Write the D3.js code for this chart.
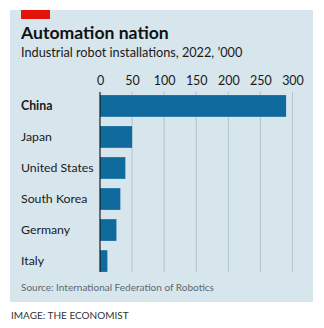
<!DOCTYPE html>
<html>
<head>
<meta charset="utf-8">
<script src="https://cdn.jsdelivr.net/npm/d3@7"></script>
<style>
  body { margin: 0; background: #fff; }
  text { font-family: Lato, "Open Sans", sans-serif; }
</style>
</head>
<body>
<div id="chart"></div>
<script>
// Data
const countries = ["China", "Japan", "United States", "South Korea", "Germany", "Italy"];
const installs = [290, 50, 39.5, 31.7, 25.6, 11.5];
const xTicks = [0, 50, 100, 150, 200, 250, 300];

function draw() {
  const dims = {
    width: 324,
    height: 328,
    left: 100,
    right: 292.5,
    top: 92,
    bottom: 272,
  };

  const svg = d3
    .select("#chart")
    .append("svg")
    .attr("width", dims.width)
    .attr("height", dims.height);

  // Panel
  svg.append("rect")
    .attr("x", 10).attr("y", 10)
    .attr("width", 303).attr("height", 292)
    .attr("fill", "#d7e5ed");

  svg.append("rect")
    .attr("x", 21).attr("y", 10)
    .attr("width", 29).attr("height", 9)
    .attr("fill", "#e3120b");

  svg.append("text")
    .attr("x", 21).attr("y", 39)
    .attr("font-size", 17.6)
    .attr("font-weight", 700)
    .attr("fill", "#121212")
    .text("Automation nation");

  svg.append("text")
    .attr("x", 21).attr("y", 57)
    .attr("font-size", 12.7)
    .attr("fill", "#1a1a1a")
    .text("Industrial robot installations, 2022, \u2019000");

  // Scales
  const xScale = d3.scaleLinear()
    .domain([0, 300])
    .range([dims.left, dims.right]);

  const yScale = d3.scaleBand()
    .domain(countries)
    .range([dims.top, dims.top + 183])
    .paddingInner(0.3)
    .paddingOuter(0.1);

  // Gridlines
  svg.append("g")
    .selectAll("line")
    .data(xTicks.slice(1))
    .join("line")
    .attr("x1", (d) => xScale(d))
    .attr("x2", (d) => xScale(d))
    .attr("y1", dims.top)
    .attr("y2", dims.bottom)
    .attr("stroke", "#b3c4cf")
    .attr("stroke-width", 1);

  // Tick labels on top
  const xAxis = d3.axisTop(xScale).tickValues(xTicks).tickSize(0).tickPadding(0);
  const xAxisGroup = svg.append("g")
    .attr("transform", `translate(0, 85)`)
    .call(xAxis);
  xAxisGroup.select(".domain").remove();
  xAxisGroup.selectAll("text")
    .attr("font-size", 12.5)
    .attr("font-family", "Lato, sans-serif")
    .attr("fill", "#1a1a1a")
    .attr("dy", 0)
    .attr("y", 0);

  // Bars
  svg.append("g")
    .selectAll("rect")
    .data(countries)
    .join("rect")
    .attr("x", xScale(0))
    .attr("y", (d) => yScale(d))
    .attr("width", (d, i) => xScale(installs[i]) - xScale(0))
    .attr("height", yScale.bandwidth())
    .attr("fill", "#0f6a9d");

  // Zero line
  svg.append("line")
    .attr("x1", xScale(0)).attr("x2", xScale(0))
    .attr("y1", dims.top).attr("y2", dims.bottom)
    .attr("stroke", "#1a1a1a")
    .attr("stroke-width", 1.2);

  // Category labels
  const yAxis = d3.axisLeft(yScale).tickSize(0).tickPadding(0);
  const yAxisGroup = svg.append("g")
    .attr("transform", `translate(21, 0)`)
    .call(yAxis);
  yAxisGroup.select(".domain").remove();
  yAxisGroup.selectAll("text")
    .attr("text-anchor", "start")
    .attr("x", 0)
    .attr("font-size", 12.3)
    .attr("font-family", "Lato, sans-serif")
    .attr("fill", "#1a1a1a")
    .attr("font-weight", (d) => (d === "China" ? 700 : 400));

  // Footer
  svg.append("text")
    .attr("x", 21).attr("y", 291)
    .attr("font-size", 10)
    .attr("fill", "#5a6970")
    .text("Source: International Federation of Robotics");

  svg.append("text")
    .attr("x", 11).attr("y", 319)
    .attr("font-size", 10)
    .attr("fill", "#333")
    .text("IMAGE: THE ECONOMIST");
}

draw();
</script>
</body>
</html>
